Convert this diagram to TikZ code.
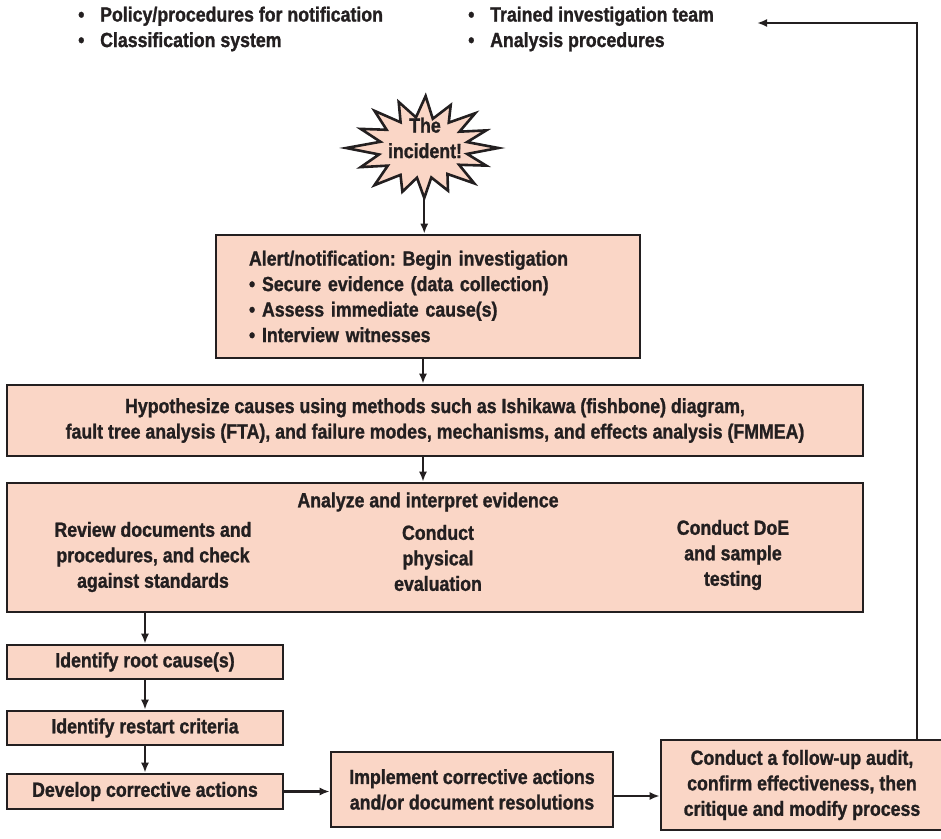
\documentclass[tikz,border=0pt]{standalone}
\usepackage{fontspec}
\setmainfont{Liberation Sans}[FakeStretch=0.865, BoldFeatures={FakeBold=1.2}]
\usetikzlibrary{arrows.meta,calc}
\definecolor{ink}{HTML}{231F20}
\definecolor{peach}{RGB}{250,214,198}
\frenchspacing
\begin{document}
\begin{tikzpicture}[x=1pt,y=1pt,
  every node/.style={font=\bfseries\fontsize{20.5}{25.5}\selectfont, text=ink},
  box/.style={draw=ink, fill=peach, line width=2.6pt, inner sep=0pt, align=center},
  arr/.style={draw=ink, line width=2.2pt, -{Latex[length=10pt,width=8pt]}},
  note/.style={anchor=west, align=left, inner sep=0pt}]
\useasboundingbox (0,0) rectangle (941,-838);

% preconditions listed above the flow
\node[note] (pre1) at (78,-29) {\makebox[22pt][l]{•}Policy/procedures for notification\\ \makebox[22pt][l]{•}Classification system};
\node[note] (pre2) at (468,-29) {\makebox[22pt][l]{•}Trained investigation team\\ \makebox[22pt][l]{•}Analysis procedures};

% the incident starburst
\begin{scope}[shift={(423,-148)}, xscale=1.45]
  \draw[draw=ink, fill=peach, line width=2.6pt, line join=miter, miter limit=20]
    (0:52) \foreach \a/\r in {11/31,22/47,33/30,44/50,55/31,66/47,77/30,88/52,99/31,110/49,121/30,132/50,144/31,156/47,168/30,180/53,192/31,204/47,216/30,228/50,240/31,252/46,262/30,271/50,281/30,292/46,303/31,315/50,326/30,338/47,349/31}{ -- (\a:\r)} -- cycle;
  \coordinate (burstb) at (271:50);
\end{scope}
\node[align=center, inner sep=0pt] (inc) at (425,-138) {The\\incident!};

% main column
\node[box, minimum width=424pt, minimum height=123pt, align=left, text width=358pt] (alert) at (428,-296.5)
  {Alert/notification: Begin investigation\\
   • Secure evidence (data collection)\\
   • Assess immediate cause(s)\\
   • Interview witnesses};

\node[box, minimum width=856pt, minimum height=71pt] (hyp) at (435,-420.5)
  {Hypothesize causes using methods such as Ishikawa (fishbone) diagram,\\
   fault tree analysis (FTA), and failure modes, mechanisms, and effects analysis (FMMEA)};

\node[box, minimum width=856pt, minimum height=129pt] (ana) at (435,-547.5) {};
\node[inner sep=0pt] (anat) at (428,-502) {Analyze and interpret evidence};
\node[align=center, inner sep=0pt] (rev) at (153,-557) {Review documents and\\procedures, and check\\against standards};
\node[align=center, inner sep=0pt] (phys) at (438,-558) {Conduct\\physical\\evaluation};
\node[align=center, inner sep=0pt] (doe) at (733,-555) {Conduct DoE\\and sample\\testing};

% lower left steps
\node[box, minimum width=276pt, minimum height=34pt] (root) at (145,-662) {Identify root cause(s)};
\node[box, minimum width=276pt, minimum height=34pt] (restart) at (145,-728) {Identify restart criteria};
\node[box, minimum width=276pt, minimum height=35pt] (develop) at (145,-791.5) {Develop corrective actions};

\node[box, minimum width=282pt, minimum height=75pt] (impl) at (472,-789.5)
  {Implement corrective actions\\and/or document resolutions};
\node[box, minimum width=282pt, minimum height=90pt] (audit) at (802,-785)
  {Conduct a follow-up audit,\\confirm effectiveness, then\\critique and modify process};

% connectors
\coordinate (spine) at (423,0);
\coordinate (fbx) at (917,0);
\coordinate (fbtip) at (757,-23);
\draw[arr] (burstb) -- (alert.north -| burstb);
\draw[arr] (alert.south -| spine) -- (hyp.north -| spine);
\draw[arr] (hyp.south -| spine) -- (ana.north -| spine);
\draw[arr] (ana.south -| root.north) -- (root.north);
\draw[arr] (root) -- (restart);
\draw[arr] (restart) -- (develop);
\draw[arr] (develop.east) -- (develop.east -| impl.west);
\draw[arr] ([yshift=-6.5pt]impl.east) -- ([yshift=-6.5pt]impl.east -| audit.west);
\draw[arr] (audit.north -| fbx) |- (fbtip);
\end{tikzpicture}
\end{document}
